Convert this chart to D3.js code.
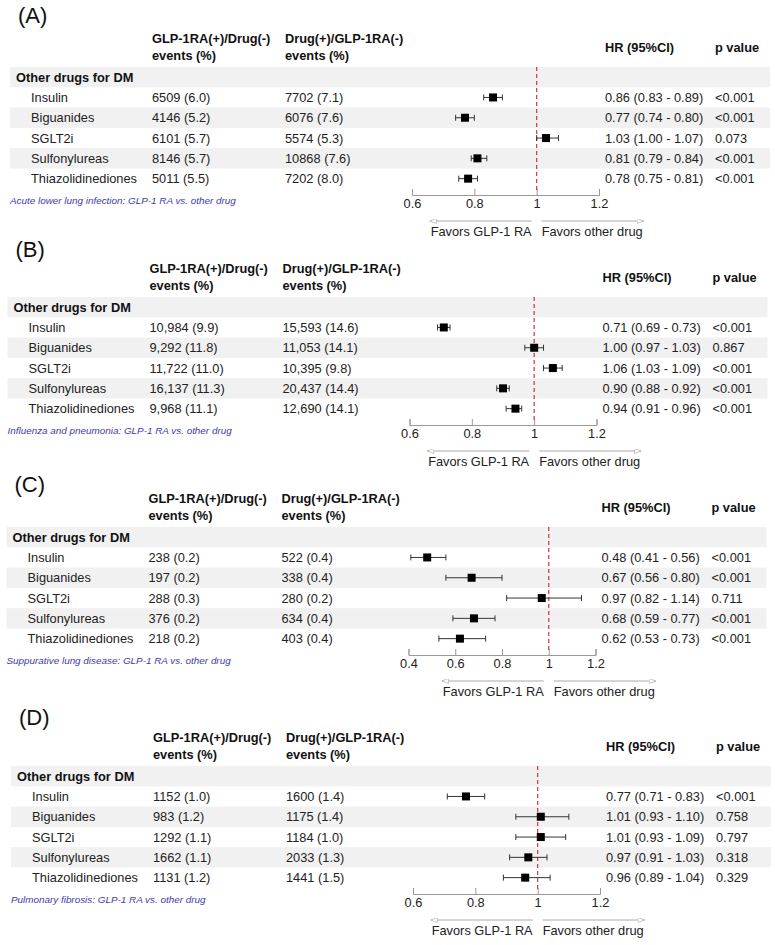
<!DOCTYPE html>
<html><head><meta charset="utf-8">
<script src="https://cdn.jsdelivr.net/npm/d3@7"></script>
<style>
html,body{margin:0;padding:0;background:#fff;}
svg{display:block;font-family:"Liberation Sans",Arial,sans-serif;}
</style></head>
<body>
<svg id="chart" width="775" height="945"></svg>
<script>
// ---------------- data ----------------
const panelLabels = ["(A)", "(B)", "(C)", "(D)"];
const captions = [
  "Acute lower lung infection: GLP-1 RA vs. other drug",
  "Influenza and pneumonia: GLP-1 RA vs. other drug",
  "Suppurative lung disease: GLP-1 RA vs. other drug",
  "Pulmonary fibrosis: GLP-1 RA vs. other drug"
];
const groupLabel = "Other drugs for DM";
const drugs = ["Insulin", "Biguanides", "SGLT2i", "Sulfonylureas", "Thiazolidinediones"];
const colHeader1 = ["GLP-1RA(+)/Drug(-)", "events (%)"];
const colHeader2 = ["Drug(+)/GLP-1RA(-)", "events (%)"];
const hrHeader = "HR (95%CI)";
const pHeader = "p value";
const favorsLeft = "Favors GLP-1 RA";
const favorsRight = "Favors other drug";

const glpEvents = [
  ["6509 (6.0)", "4146 (5.2)", "6101 (5.7)", "8146 (5.7)", "5011 (5.5)"],
  ["10,984 (9.9)", "9,292 (11.8)", "11,722 (11.0)", "16,137 (11.3)", "9,968 (11.1)"],
  ["238 (0.2)", "197 (0.2)", "288 (0.3)", "376 (0.2)", "218 (0.2)"],
  ["1152 (1.0)", "983 (1.2)", "1292 (1.1)", "1662 (1.1)", "1131 (1.2)"]
];
const drugEvents = [
  ["7702 (7.1)", "6076 (7.6)", "5574 (5.3)", "10868 (7.6)", "7202 (8.0)"],
  ["15,593 (14.6)", "11,053 (14.1)", "10,395 (9.8)", "20,437 (14.4)", "12,690 (14.1)"],
  ["522 (0.4)", "338 (0.4)", "280 (0.2)", "634 (0.4)", "403 (0.4)"],
  ["1600 (1.4)", "1175 (1.4)", "1184 (1.0)", "2033 (1.3)", "1441 (1.5)"]
];
const hr = [
  [0.86, 0.77, 1.03, 0.81, 0.78],
  [0.71, 1.00, 1.06, 0.90, 0.94],
  [0.48, 0.67, 0.97, 0.68, 0.62],
  [0.77, 1.01, 1.01, 0.97, 0.96]
];
const hrLow = [
  [0.83, 0.74, 1.00, 0.79, 0.75],
  [0.69, 0.97, 1.03, 0.88, 0.91],
  [0.41, 0.56, 0.82, 0.59, 0.53],
  [0.71, 0.93, 0.93, 0.91, 0.89]
];
const hrHigh = [
  [0.89, 0.80, 1.07, 0.84, 0.81],
  [0.73, 1.03, 1.09, 0.92, 0.96],
  [0.56, 0.80, 1.14, 0.77, 0.73],
  [0.83, 1.10, 1.09, 1.03, 1.04]
];
const pValues = [
  ["<0.001", "<0.001", "0.073", "<0.001", "<0.001"],
  ["<0.001", "0.867", "<0.001", "<0.001", "<0.001"],
  ["<0.001", "<0.001", "0.711", "<0.001", "<0.001"],
  ["<0.001", "0.758", "0.797", "0.318", "0.329"]
];
const axisTicks = [
  [0.6, 0.8, 1, 1.2],
  [0.6, 0.8, 1, 1.2],
  [0.4, 0.6, 0.8, 1, 1.2],
  [0.6, 0.8, 1, 1.2]
];

// ---------------- layout ----------------
const panelY = [0, 230, 460, 699];
const panelX = [0, -2.5, -3.5, 1];
const labelY = [23, 27, 32, 26];
const FS = 12.8;
const bandTop = 67, rowH = 20.3;
const xName = 31, xGroup = 16, xCol1 = 152, xCol2 = 285, xHR = 605, xP = 715;
const bandL = 10, bandR = 770;
const plotL = 412, plotR = 599;
const axisY = 195;

const svg = d3.select("#chart");
const defs = svg.append("defs");
["l", "r"].forEach(k => {
  defs.append("marker").attr("id", "arr" + k)
    .attr("viewBox", "0 0 8 6").attr("refX", 8).attr("refY", 3)
    .attr("markerWidth", 7).attr("markerHeight", 5).attr("orient", "auto")
    .attr("markerUnits", "userSpaceOnUse")
    .append("path").attr("d", "M0,0 L8,3 L0,6 Z")
    .attr("fill", "#fff").attr("stroke", "#aaa").attr("stroke-width", 0.8);
});

panelLabels.forEach((lab, p) => {
  const g = svg.append("g").attr("transform", `translate(${panelX[p]},${panelY[p]})`);
  const rowTop = i => bandTop + rowH * (i + 1);
  const rowC = i => rowTop(i) + rowH / 2;

  // bands
  g.append("rect").attr("x", bandL).attr("y", bandTop).attr("width", bandR - bandL).attr("height", rowH)
    .attr("fill", "#f1f1f1");
  g.append("g").selectAll("rect").data(drugs.map((d, i) => i).filter(i => i % 2 === 1)).enter().append("rect")
    .attr("x", bandL).attr("y", i => rowTop(i)).attr("width", bandR - bandL).attr("height", rowH)
    .attr("fill", "#f1f1f1");

  // panel label
  g.append("text").attr("x", 18).attr("y", labelY[p]).attr("font-size", 22).attr("fill", "#111")
    .text(lab);

  // headers
  const hdr = (x, y, t) => g.append("text").attr("x", x).attr("y", y).attr("font-size", FS)
    .attr("font-weight", "bold").attr("fill", "#111").text(t);
  hdr(xCol1, 43, colHeader1[0]); hdr(xCol1, 60, colHeader1[1]);
  hdr(xCol2, 43, colHeader2[0]); hdr(xCol2, 60, colHeader2[1]);
  hdr(xHR, 52, hrHeader); hdr(xP, 52, pHeader);
  hdr(xGroup, bandTop + rowH / 2 + 4.6, groupLabel);

  // row texts
  const cell = (x, arr) => g.append("g").selectAll("text").data(arr).enter().append("text")
    .attr("x", x).attr("y", (d, i) => rowC(i) + 4.6).attr("font-size", FS).attr("fill", "#222").text(d => d);
  cell(xName, drugs);
  cell(xCol1, glpEvents[p]);
  cell(xCol2, drugEvents[p]);
  cell(xHR, hr[p].map((v, i) => `${v.toFixed(2)} (${hrLow[p][i].toFixed(2)} - ${hrHigh[p][i].toFixed(2)})`));
  cell(xP, pValues[p]);

  // caption
  g.append("text").attr("x", 10).attr("y", 204).attr("font-size", 9.9).attr("font-style", "italic")
    .attr("fill", "#3b3bb0").text(captions[p]);

  // scale & axis
  const ticks = axisTicks[p];
  const x = d3.scaleLinear().domain([ticks[0], ticks[ticks.length - 1]]).range([plotL, plotR]);
  const ax = g.append("g").attr("transform", `translate(0,${axisY})`)
    .call(d3.axisBottom(x).tickValues(ticks).tickFormat(d => String(d)).tickSize(-6).tickPadding(4));
  ax.selectAll("path,line").attr("stroke", "#999").attr("stroke-width", 1);
  ax.selectAll("text").attr("font-size", FS).attr("fill", "#222")
    .attr("font-family", "'Liberation Sans',Arial,sans-serif");

  // reference line
  g.append("line").attr("x1", x(1)).attr("x2", x(1)).attr("y1", bandTop).attr("y2", axisY - 4)
    .attr("stroke", "#d8323a").attr("stroke-width", 1.2).attr("stroke-dasharray", "4,3");

  // CI
  const ci = g.append("g");
  drugs.forEach((d, i) => {
    const y = rowC(i);
    ci.append("line").attr("x1", x(hrLow[p][i])).attr("x2", x(hrHigh[p][i])).attr("y1", y).attr("y2", y)
      .attr("stroke", "#333").attr("stroke-width", 1);
    [hrLow[p][i], hrHigh[p][i]].forEach(v => ci.append("line").attr("x1", x(v)).attr("x2", x(v))
      .attr("y1", y - 3).attr("y2", y + 3).attr("stroke", "#333").attr("stroke-width", 1));
    ci.append("rect").attr("x", x(hr[p][i]) - 4).attr("y", y - 4).attr("width", 8).attr("height", 8)
      .attr("fill", "#000");
  });

  // favors arrows
  const ref = x(1);
  g.append("line").attr("x1", ref - 5).attr("x2", ref - 107).attr("y1", 221).attr("y2", 221)
    .attr("stroke", "#aaa").attr("stroke-width", 1).attr("marker-end", "url(#arrl)");
  g.append("line").attr("x1", ref + 5).attr("x2", ref + 107).attr("y1", 221).attr("y2", 221)
    .attr("stroke", "#aaa").attr("stroke-width", 1).attr("marker-end", "url(#arrr)");
  g.append("text").attr("x", ref - 5).attr("y", 236).attr("text-anchor", "end").attr("font-size", FS)
    .attr("fill", "#222").text(favorsLeft);
  g.append("text").attr("x", ref + 5).attr("y", 236).attr("font-size", FS)
    .attr("fill", "#222").text(favorsRight);
});
</script>
</body></html>
